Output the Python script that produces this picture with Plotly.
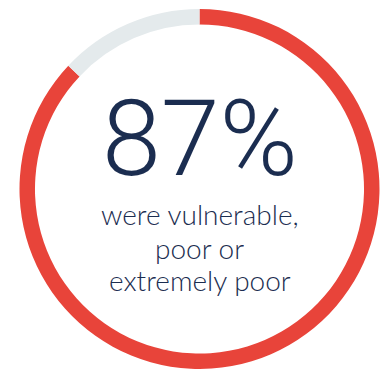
import plotly.graph_objects as go

# Share of households by status
labels = ["Vulnerable, poor or extremely poor", "Other"]
values = [87, 13]
colors = ["#E8443A", "#E4EAEC"]

headline = "87%"
caption = ["were vulnerable,", "poor or", "extremely poor"]

W, H = 387, 369
cx, cy, R = 199.5, 189, 180

fig = go.Figure(
    go.Pie(
        labels=labels,
        values=values,
        hole=0.914,
        sort=False,
        direction="clockwise",
        rotation=0,
        marker=dict(colors=colors, line=dict(width=0)),
        textinfo="none",
        hoverinfo="label+percent",
        domain=dict(x=[(cx - R) / W, (cx + R) / W], y=[(H - cy - R) / H, (H - cy + R) / H]),
        showlegend=False,
    )
)

navy = "#1B2D50"
# headline box trimmed to the digit height so it sits tightly above the caption
fig.add_annotation(
    x=cx / W, y=(H - 139) / H, xref="paper", yref="paper",
    text=headline, showarrow=False, xanchor="center", yanchor="middle",
    height=88, valign="middle",
    font=dict(family="Roboto", size=106, color=navy, weight=300),
)

# caption lines placed one by one for tighter leading
line_y = [214, 248, 280]
for txt, y in zip(caption, line_y):
    fig.add_annotation(
        x=cx / W, y=(H - y) / H, xref="paper", yref="paper",
        text=txt, showarrow=False, xanchor="center", yanchor="middle",
        height=32, valign="middle",
        font=dict(family="Lato", size=28, color=navy, weight=300),
    )

fig.update_layout(
    width=W, height=H,
    margin=dict(l=0, r=0, t=0, b=0),
    paper_bgcolor="white", plot_bgcolor="white",
)

fig.write_html("out.html")
